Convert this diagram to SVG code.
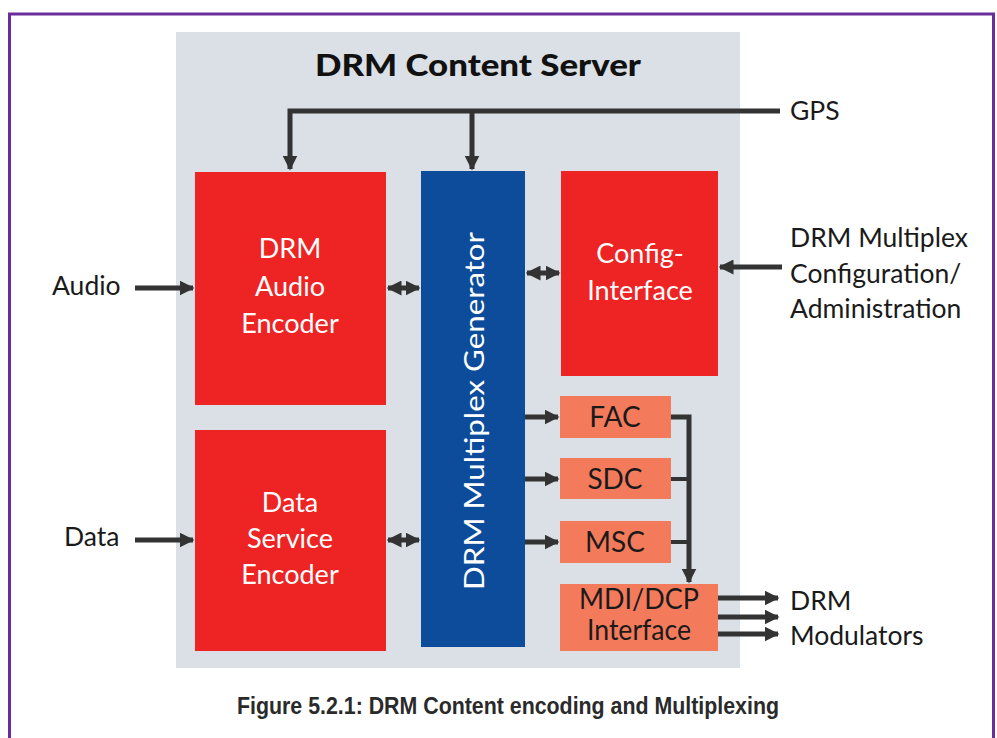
<svg xmlns="http://www.w3.org/2000/svg" width="997" height="738" viewBox="0 0 997 738">
<style>
.lbl{font-family:Lato,"Open Sans","Liberation Sans",sans-serif;font-size:26.5px;fill:#1a1a1a}
.wt{font-family:Lato,"Open Sans","Liberation Sans",sans-serif;font-size:27px;fill:#ffffff;text-anchor:middle}
.dk{font-family:Lato,"Open Sans","Liberation Sans",sans-serif;font-size:28px;fill:#1a1a1a;text-anchor:middle}
.ln{stroke:#333333;stroke-width:5;fill:none}
.ln4{stroke:#333333;stroke-width:4;fill:none}
</style>
<defs>
<marker id="ah" viewBox="0 0 10 10" refX="9" refY="5" markerWidth="3" markerHeight="3" orient="auto-start-reverse" markerUnits="strokeWidth">
<path d="M0,0 L10,5 L0,10 Z" fill="#333333"/>
</marker>
</defs>
<rect x="0" y="0" width="997" height="738" fill="#ffffff"/>
<rect x="9.5" y="14" width="984" height="740" fill="none" stroke="#6B2D9C" stroke-width="3"/>
<rect x="176" y="32" width="564" height="636" fill="#DAE0E6"/>
<text x="478" y="76" font-family="Lato,'Open Sans','Liberation Sans',sans-serif" font-size="31" font-weight="900" fill="#111" text-anchor="middle" textLength="326" lengthAdjust="spacingAndGlyphs">DRM Content Server</text>

<g id="audio-encoder">
<rect x="195" y="172" width="191" height="233" fill="#EE2424"/>
<text class="wt" x="290" y="258">DRM</text>
<text class="wt" x="290" y="296">Audio</text>
<text class="wt" x="290" y="333">Encoder</text>
</g>
<g id="data-encoder">
<rect x="195" y="430" width="191" height="221" fill="#EE2424"/>
<text class="wt" x="290" y="512">Data</text>
<text class="wt" x="290" y="548">Service</text>
<text class="wt" x="290" y="584">Encoder</text>
</g>
<g id="mux-generator">
<rect x="421" y="171" width="104" height="476" fill="#0D4C9A"/>
<text class="wt" font-size="31" transform="translate(484,411) rotate(-90)" textLength="358" lengthAdjust="spacingAndGlyphs">DRM Multiplex Generator</text>
</g>
<g id="config-interface">
<rect x="561" y="171" width="157" height="205" fill="#EE2424"/>
<text class="wt" x="640" y="263">Config-</text>
<text class="wt" x="640" y="300">Interface</text>
</g>
<g id="fac">
<rect x="560" y="396" width="111" height="42" fill="#F47A5C"/>
<text class="dk" x="615" y="427">FAC</text>
</g>
<g id="sdc">
<rect x="560" y="458" width="111" height="41" fill="#F47A5C"/>
<text class="dk" x="615" y="489">SDC</text>
</g>
<g id="msc">
<rect x="560" y="521" width="111" height="42" fill="#F47A5C"/>
<text class="dk" x="615" y="552">MSC</text>
</g>
<g id="mdi-dcp">
<rect x="560" y="584" width="158" height="67" fill="#F47A5C"/>
<text class="dk" x="639" y="609" font-size="23" textLength="120" lengthAdjust="spacingAndGlyphs">MDI/DCP</text>
<text class="dk" x="639" y="640" font-size="22" textLength="104" lengthAdjust="spacingAndGlyphs">Interface</text>
</g>

<g id="labels">
<text class="lbl" x="52" y="295">Audio</text>
<text class="lbl" x="64" y="546">Data</text>
<text class="lbl" x="790" y="120">GPS</text>
<text class="lbl" x="790" y="247">DRM Multiplex</text>
<text class="lbl" x="790" y="283">Configuration/</text>
<text class="lbl" x="790" y="318">Administration</text>
<text class="lbl" x="790" y="610">DRM</text>
<text class="lbl" x="790" y="645">Modulators</text>
</g>

<g id="connectors">
<polyline class="ln" points="780,111 290,111 290,169" marker-end="url(#ah)"/>
<line class="ln" x1="472" y1="111" x2="472" y2="169" marker-end="url(#ah)"/>
<line class="ln" x1="135" y1="288" x2="193" y2="288" marker-end="url(#ah)"/>
<line class="ln" x1="135" y1="540" x2="193" y2="540" marker-end="url(#ah)"/>
<line class="ln" x1="388" y1="288" x2="419" y2="288" marker-start="url(#ah)" marker-end="url(#ah)"/>
<line class="ln" x1="388" y1="540" x2="419" y2="540" marker-start="url(#ah)" marker-end="url(#ah)"/>
<line class="ln" x1="527" y1="273" x2="559" y2="273" marker-start="url(#ah)" marker-end="url(#ah)"/>
<line class="ln" x1="782" y1="267" x2="720" y2="267" marker-end="url(#ah)"/>
<line class="ln" x1="525" y1="417" x2="558" y2="417" marker-end="url(#ah)"/>
<line class="ln" x1="525" y1="479" x2="558" y2="479" marker-end="url(#ah)"/>
<line class="ln" x1="525" y1="542" x2="558" y2="542" marker-end="url(#ah)"/>
<polyline class="ln" points="671,417 689,417 689,582" marker-end="url(#ah)"/>
<line class="ln4" x1="671" y1="479" x2="689" y2="479"/>
<line class="ln4" x1="671" y1="542" x2="689" y2="542"/>
<line class="ln" x1="718" y1="598" x2="778" y2="598" marker-end="url(#ah)"/>
<line class="ln" x1="718" y1="617" x2="778" y2="617" marker-end="url(#ah)"/>
<line class="ln" x1="718" y1="634" x2="778" y2="634" marker-end="url(#ah)"/>
</g>

<text x="508" y="714" font-family="'Liberation Sans',Arial,sans-serif" font-size="24" font-weight="bold" fill="#2a2a2a" text-anchor="middle" textLength="542" lengthAdjust="spacingAndGlyphs">Figure 5.2.1: DRM Content encoding and Multiplexing</text>
</svg>
